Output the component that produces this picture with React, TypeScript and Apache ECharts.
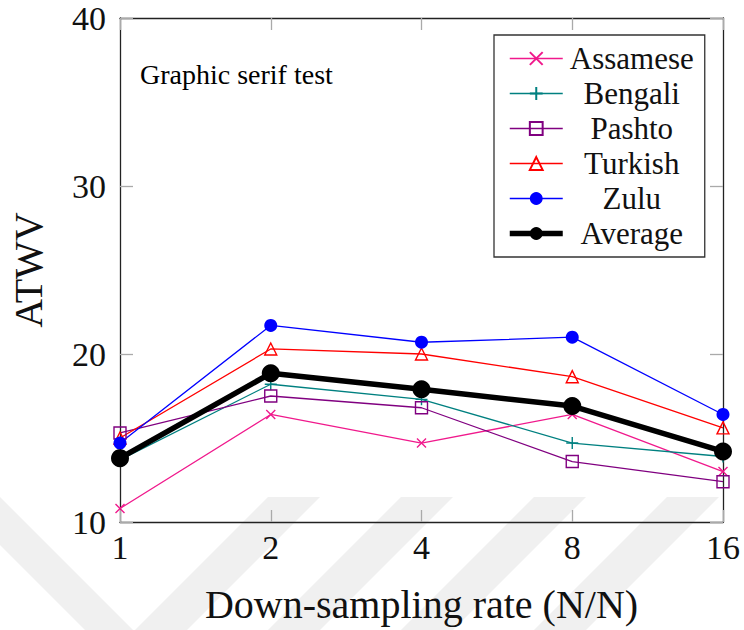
import React, { useEffect, useRef } from "react";
import * as echarts from "echarts";

const categories = ["1", "2", "4", "8", "16"];
const assamese = [10.8, 16.4, 14.7, 16.4, 13.0];
const bengali = [13.7, 18.2, 17.3, 14.7, 13.9];
const pashto = [15.3, 17.5, 16.8, 13.6, 12.4];
const turkish = [15.0, 20.3, 20.0, 18.65, 15.6];
const zulu = [14.7, 21.7, 20.7, 21.0, 16.4];
const average = [13.8, 18.85, 17.9, 16.9, 14.2];
const yTicks = { min: 10, max: 40, interval: 10 };

const FONT = "Liberation Serif";

export default function App() {
  const ref = useRef<HTMLDivElement>(null);
  useEffect(() => {
    if (!ref.current) return;
    const chart = echarts.init(ref.current, undefined, { renderer: "svg" });
    const thin = (name: string, data: number[], color: string, symbol: string, size: number, filled: boolean) => ({
      name,
      type: "line",
      data,
      symbol,
      symbolSize: size,
      lineStyle: { color, width: 1.3 },
      itemStyle: filled
        ? { color, borderColor: color, borderWidth: 0 }
        : { color: "#ffffff00", borderColor: color, borderWidth: 1.4 },
      emphasis: { disabled: true },
      z: 3,
    });
    const wm = "#f0f0f0";
    const stripe = (a: number) => ({
      type: "polygon",
      z: -10,
      silent: true,
      shape: { points: [[a, 497], [a + 52, 497], [a + 52 - 133, 630], [a - 133, 630]] },
      style: { fill: wm },
    });
    chart.setOption({
      animation: false,
      backgroundColor: "#fff",
      graphic: [
        stripe(268),
        stripe(401),
        stripe(534),
        stripe(667),
        {
          type: "polygon",
          z: -10,
          silent: true,
          shape: { points: [[0, 497], [133, 630], [85, 630], [0, 545]] },
          style: { fill: wm },
        },
        { type: "text", left: 140, top: 60, style: { text: "Graphic serif test", fontFamily: FONT, fontSize: 28 } },
      ],
      grid: { left: 116, right: 21, top: 18, bottom: 108, containLabel: false },
      legend: {
        orient: "vertical",
        left: 494,
        top: 35,
        itemWidth: 53,
        itemHeight: 16,
        itemGap: 0,
        padding: [6, 9, 6, 13],
        borderColor: "#333",
        borderWidth: 1.3,
        backgroundColor: "#fff",
        selectedMode: false,
        lineStyle: { width: "inherit" },
        formatter: "{a|{name}}",
        textStyle: {
          fontFamily: FONT,
          fontSize: 31,
          color: "#111",
          rich: {
            a: { width: 128, align: "center", fontSize: 31, lineHeight: 35, height: 35, fontFamily: FONT, color: "#111" },
          },
        },
        data: ["Assamese", "Bengali", "Pashto", "Turkish", "Zulu", "Average"],
      },
      xAxis: [
        {
          type: "category",
          data: categories,
          boundaryGap: false,
          position: "bottom",
          axisLine: { lineStyle: { color: "#222", width: 1.3 } },
          axisTick: { inside: true, length: 12, lineStyle: { color: "#aaa", width: 1.3 } },
          axisLabel: { fontFamily: FONT, fontSize: 34, color: "#111", margin: 8 },
          splitLine: { show: false },
          name: "Down-sampling rate (N/N)",
          nameLocation: "middle",
          nameGap: 62,
          nameTextStyle: { fontFamily: FONT, fontSize: 40, color: "#111" },
        },
        {
          type: "category",
          data: categories,
          boundaryGap: false,
          position: "top",
          axisLine: { lineStyle: { color: "#222", width: 1.3 } },
          axisTick: { inside: true, length: 12, lineStyle: { color: "#aaa", width: 1.3 } },
          axisLabel: { show: false },
          splitLine: { show: false },
        },
      ],
      yAxis: [
        {
          type: "value",
          min: yTicks.min,
          max: yTicks.max,
          interval: yTicks.interval,
          position: "left",
          axisLine: { show: true, lineStyle: { color: "#222", width: 1.3 } },
          axisTick: { show: true, inside: true, length: 13, lineStyle: { color: "#aaa", width: 1.3 } },
          axisLabel: { fontFamily: FONT, fontSize: 34, color: "#111", margin: 14 },
          splitLine: { show: false },
          name: "ATWV",
          nameLocation: "middle",
          nameGap: 72,
          nameTextStyle: { fontFamily: FONT, fontSize: 40, color: "#111" },
        },
        {
          type: "value",
          min: yTicks.min,
          max: yTicks.max,
          interval: yTicks.interval,
          position: "right",
          axisLine: { show: true, lineStyle: { color: "#222", width: 1.3 } },
          axisTick: { show: true, inside: true, length: 13, lineStyle: { color: "#aaa", width: 1.3 } },
          axisLabel: { show: false },
          splitLine: { show: false },
        },
      ],
      series: [
        thin("Assamese", assamese, "#f0198c", "path://M0,0L10,10M10,0L0,10", 9, false),
        thin("Bengali", bengali, "#008080", "path://M5,0L5,10M0,5L10,5", 12, false),
        thin("Pashto", pashto, "#800080", "rect", 12, false),
        thin("Turkish", turkish, "#ff0000", "triangle", 12, false),
        thin("Zulu", zulu, "#0000ff", "circle", 13, true),
        {
          name: "Average",
          type: "line",
          data: average,
          symbol: "circle",
          symbolSize: 18,
          lineStyle: { color: "#000", width: 5.5 },
          itemStyle: { color: "#000" },
          emphasis: { disabled: true },
          z: 4,
        },
      ],
    });
    return () => chart.dispose();
  }, []);
  return <div ref={ref} style={{ width: 744, height: 630, position: "absolute", left: 0, top: 0 }} />;
}
